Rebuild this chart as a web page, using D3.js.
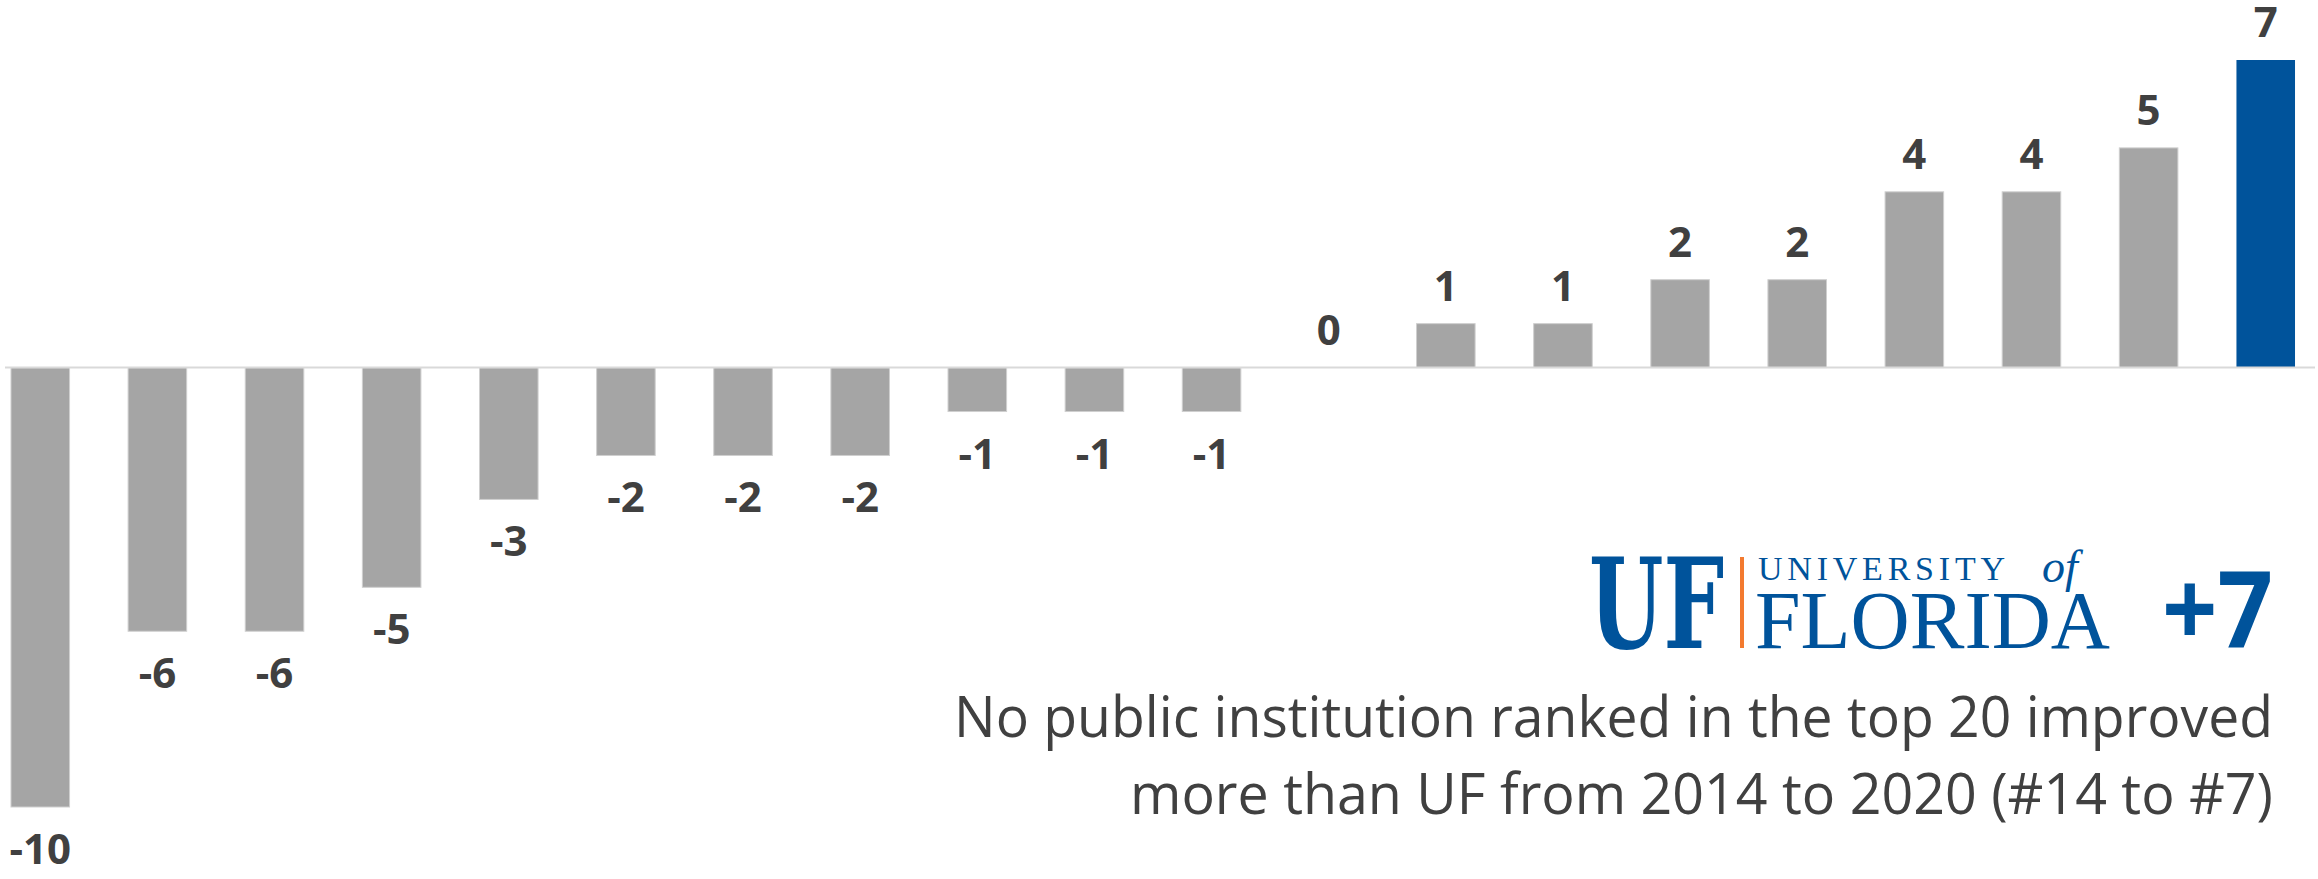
<!DOCTYPE html>
<html>
<head>
<meta charset="utf-8">
<script src="https://cdn.jsdelivr.net/npm/d3@7"></script>
<style>
  html, body { margin: 0; padding: 0; background: #fff; }
  svg { display: block; }
</style>
</head>
<body>
<svg id="board" width="2318" height="879"></svg>
<script>
// rank change 2014 -> 2020, one bar per public institution in the top 20
var institutions = ['i1', 'i2', 'i3', 'i4', 'i5', 'i6', 'i7', 'i8', 'i9', 'i10',
  'i11', 'i12', 'i13', 'i14', 'i15', 'i16', 'i17', 'i18', 'i19', 'UF'];
var rankChange = [-10, -6, -6, -5, -3, -2, -2, -2, -1, -1, -1, 0, 1, 1, 2, 2, 4, 4, 5, 7];
var highlight = 'UF';
var captionLines = [
  'No public institution ranked in the top 20 improved',
  'more than UF from 2014 to 2020 (#14 to #7)'
];
var logoBadge = '+7';

const grey = '#a5a5a5';
const ufBlue = '#00539b';
const ufOrange = '#f37a2f';
const textColor = '#404040';

var data = institutions.map(function (name, i) {
  return { name: name, value: rankChange[i] };
});

var svg = d3.select('#board');

var x = d3.scaleBand()
  .domain(institutions)
  .range([-18.3, 2324.3])
  .paddingInner(0.5)
  .paddingOuter(0.25);

var y = d3.scaleLinear()
  .domain([-10, 7])
  .range([807, 60]);

renderBars();
renderZeroLine();
renderLabels();
renderLogo();
renderCaption();

function renderBars() {
  svg.append('g').attr('class', 'bars')
    .selectAll('rect').data(data, d => d.name)
    .enter().append('rect')
      .attr('x', d => x(d.name))
      .attr('width', x.bandwidth())
      .attr('y', d => Math.min(y(d.value), y(0)))
      .attr('height', d => Math.abs(y(d.value) - y(0)))
      .attr('fill', d => d.name === highlight ? ufBlue : grey)
      .attr('stroke', d => d.name === highlight ? 'none' : '#cfcfcf')
      .attr('stroke-width', 1);
}

function renderZeroLine() {
  svg.append('line')
    .attr('x1', 5)
    .attr('x2', 2315)
    .attr('y1', y(0))
    .attr('y2', y(0))
    .attr('stroke', '#d9d9d9')
    .attr('stroke-width', 2);
}

function renderLabels() {
  svg.append('g').attr('class', 'labels')
    .selectAll('text').data(data, d => d.name)
    .enter().append('text')
      .attr('x', d => x(d.name) + x.bandwidth() / 2)
      .attr('y', getLabelBaseline)
      .attr('text-anchor', 'middle')
      .attr('font-family', '"Open Sans", sans-serif')
      .attr('font-weight', 700)
      .attr('font-size', 42)
      .attr('fill', textColor)
      .text(d => d.value);
}

function getLabelBaseline(d) {
  return d.value < 0 ? y(d.value) + 57 : y(d.value) - 23;
}

function renderLogo() {
  var logo = svg.append('g').attr('class', 'logo').attr('fill', ufBlue);

  logo.append('text')
    .attr('x', 1589)
    .attr('y', 648)
    .attr('font-family', '"DejaVu Serif", serif')
    .attr('font-stretch', 'condensed')
    .attr('font-weight', 900)
    .attr('font-size', 125)
    .attr('textLength', 135)
    .attr('lengthAdjust', 'spacingAndGlyphs')
    .text('UF');

  logo.append('rect')
    .attr('x', 1740)
    .attr('y', 557)
    .attr('width', 4)
    .attr('height', 91)
    .attr('fill', ufOrange);

  logo.append('text')
    .attr('x', 1758)
    .attr('y', 580)
    .attr('font-family', '"Liberation Serif", serif')
    .attr('font-size', 34)
    .attr('textLength', 247)
    .attr('lengthAdjust', 'spacing')
    .text('UNIVERSITY');

  logo.append('text')
    .attr('x', 2042)
    .attr('y', 582)
    .attr('font-family', '"Liberation Serif", serif')
    .attr('font-style', 'italic')
    .attr('font-size', 46)
    .text('of');

  logo.append('text')
    .attr('x', 1755)
    .attr('y', 648)
    .attr('font-family', '"Liberation Serif", serif')
    .attr('font-size', 83)
    .attr('textLength', 355)
    .attr('lengthAdjust', 'spacingAndGlyphs')
    .text('FLORIDA');

  logo.append('text')
    .attr('x', 2273)
    .attr('y', 647)
    .attr('text-anchor', 'end')
    .attr('font-family', '"Open Sans", sans-serif')
    .attr('font-weight', 700)
    .attr('font-size', 105)
    .attr('textLength', 111)
    .attr('lengthAdjust', 'spacingAndGlyphs')
    .text(logoBadge);
}

function renderCaption() {
  var widths = [1319, 1143];
  svg.append('g').attr('class', 'caption')
    .selectAll('text').data(captionLines)
    .enter().append('text')
      .attr('x', 2273)
      .attr('y', (d, i) => 737 + i * 77)
      .attr('text-anchor', 'end')
      .attr('font-family', '"Open Sans", sans-serif')
      .attr('font-weight', 400)
      .attr('font-size', 57)
      .attr('fill', textColor)
      .attr('textLength', (d, i) => widths[i])
      .attr('lengthAdjust', 'spacingAndGlyphs')
      .text(d => d);
}
</script>
</body>
</html>
